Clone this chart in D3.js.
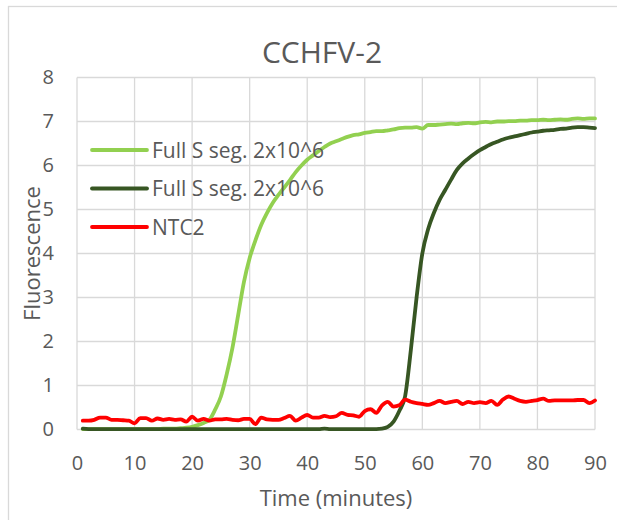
<!DOCTYPE html>
<html>
  <head>
    <script src="https://d3js.org/d3.v7.min.js"></script>
    <meta charset="utf-8">
    <title>CCHFV-2</title>
    <style>
      body {
        margin: 0;
        background-color: #ffffff;
      }

      text {
        font-family: "Open Sans", sans-serif;
        fill: #595959;
      }
    </style>
  </head>
  <body>
    <script>
      // Time points (minutes)
      const minutes = [
        1, 2, 3, 4, 5, 6, 7, 8, 9, 10, 11, 12, 13, 14, 15, 16, 17, 18, 19, 20,
        21, 22, 23, 24, 25, 26, 27, 28, 29, 30, 31, 32, 33, 34, 35, 36, 37, 38, 39, 40,
        41, 42, 43, 44, 45, 46, 47, 48, 49, 50, 51, 52, 53, 54, 55, 56, 57, 58, 59, 60,
        61, 62, 63, 64, 65, 66, 67, 68, 69, 70, 71, 72, 73, 74, 75, 76, 77, 78, 79, 80,
        81, 82, 83, 84, 85, 86, 87, 88, 89, 90
      ];

      // Full S seg. 2x10^6 (light green)
      const fullS1 = [
        0.01, 0.01, 0.01, 0.01, 0.01, 0.01, 0.01, 0.01, 0.01, 0.01,
        0.01, 0.01, 0.01, 0.01, 0.02, 0.02, 0.02, 0.03, 0.04, 0.06,
        0.1, 0.15, 0.22, 0.45, 0.75, 1.25, 1.85, 2.6, 3.35, 3.9,
        4.3, 4.65, 4.92, 5.15, 5.33, 5.5, 5.67, 5.85, 6.0, 6.13,
        6.23, 6.33, 6.42, 6.5, 6.55, 6.6, 6.65, 6.69, 6.71, 6.74,
        6.76, 6.78, 6.78, 6.8, 6.82, 6.85, 6.86, 6.86, 6.87, 6.84,
        6.92, 6.92, 6.93, 6.94, 6.95, 6.94, 6.96, 6.97, 6.96, 6.98,
        6.99, 6.98, 7.0, 7.0, 7.01, 7.01, 7.02, 7.02, 7.03, 7.03,
        7.04, 7.03, 7.04, 7.05, 7.04, 7.06, 7.07, 7.06, 7.07, 7.07
      ];

      // Full S seg. 2x10^6 (dark green)
      const fullS2 = [
        0.02, 0.01, 0.01, 0.01, 0.01, 0.01, 0.01, 0.01, 0.01, 0.01,
        0.01, 0.01, 0.01, 0.01, 0.01, 0.01, 0.01, 0.01, 0.01, 0.01,
        0.01, 0.01, 0.01, 0.01, 0.01, 0.01, 0.01, 0.01, 0.01, 0.01,
        0.01, 0.01, 0.01, 0.01, 0.01, 0.01, 0.01, 0.01, 0.01, 0.01,
        0.01, 0.01, 0.02, 0.01, 0.01, 0.01, 0.01, 0.01, 0.01, 0.01,
        0.01, 0.01, 0.02, 0.06, 0.18, 0.42, 0.75, 1.8, 3.0, 4.0,
        4.55, 4.92, 5.22, 5.45, 5.68, 5.9, 6.05, 6.16, 6.26, 6.35,
        6.42, 6.49, 6.54, 6.59, 6.63, 6.66, 6.69, 6.72, 6.75, 6.77,
        6.79, 6.8, 6.81, 6.83, 6.84, 6.86, 6.87, 6.87, 6.86, 6.85
      ];

      // NTC2 (red)
      const ntc2 = [
        0.2, 0.2, 0.22, 0.27, 0.27, 0.22, 0.22, 0.21, 0.2, 0.14,
        0.26, 0.26, 0.2, 0.25, 0.22, 0.24, 0.22, 0.23, 0.18, 0.29,
        0.2, 0.24, 0.2, 0.23, 0.23, 0.24, 0.22, 0.21, 0.24, 0.24,
        0.12, 0.27, 0.23, 0.22, 0.22, 0.26, 0.31, 0.2, 0.27, 0.33,
        0.27, 0.27, 0.31, 0.28, 0.3, 0.38, 0.33, 0.32, 0.29, 0.42,
        0.46, 0.38, 0.55, 0.63, 0.52, 0.55, 0.68, 0.63, 0.6, 0.58,
        0.56, 0.6, 0.65, 0.6, 0.63, 0.65, 0.58, 0.63, 0.6, 0.62,
        0.6, 0.65, 0.56, 0.68, 0.75, 0.7, 0.65, 0.63, 0.65, 0.67,
        0.7, 0.65, 0.66, 0.66, 0.66, 0.66, 0.67, 0.67, 0.6, 0.66
      ];

      const seriesNames = ["Full S seg. 2x10^6", "Full S seg. 2x10^6", "NTC2"];
      const seriesColors = ["#92d050", "#375623", "#ff0000"];
      const xTicks = [0, 10, 20, 30, 40, 50, 60, 70, 80, 90];
      const yTicks = [0, 1, 2, 3, 4, 5, 6, 7, 8];

      const allSeries = [fullS1, fullS2, ntc2];

      const width = 617;
      const height = 520;
      const margin = {top: 77.5, right: 22, bottom: 90.5, left: 77};

      const svg = d3.select("body")
        .append("svg")
        .attr("width", width)
        .attr("height", height);

      // Chart frame (right and bottom edges fall outside the picture)
      svg.append("rect")
        .attr("x", 8.5)
        .attr("y", 6.5)
        .attr("width", 700)
        .attr("height", 600)
        .attr("fill", "none")
        .attr("stroke", "#d9d9d9")
        .attr("stroke-width", 1.3);

      const x = d3.scaleLinear()
        .domain([0, 90])
        .range([margin.left, width - margin.right]);

      const y = d3.scaleLinear()
        .domain([0, 8])
        .range([height - margin.bottom, margin.top]);

      // Gridlines
      svg.append("g")
        .selectAll("line")
        .data(yTicks)
        .enter()
        .append("line")
        .attr("x1", x(0))
        .attr("x2", x(90))
        .attr("y1", d => y(d))
        .attr("y2", d => y(d))
        .attr("stroke", "#d9d9d9")
        .attr("stroke-width", 1.3);

      svg.append("g")
        .selectAll("line")
        .data(xTicks)
        .enter()
        .append("line")
        .attr("x1", d => x(d))
        .attr("x2", d => x(d))
        .attr("y1", y(0))
        .attr("y2", y(8))
        .attr("stroke", "#d9d9d9")
        .attr("stroke-width", 1.3);

      // Axis labels
      const xAxis = svg.append("g")
        .attr("transform", `translate(0,${y(0)})`)
        .call(d3.axisBottom(x).tickValues(xTicks).tickSize(0).tickPadding(26));
      xAxis.select(".domain").remove();
      xAxis.selectAll("text")
        .attr("font-size", "20px")
        .attr("font-family", "Open Sans, sans-serif")
        .attr("fill", "#595959");

      const yAxis = svg.append("g")
        .attr("transform", `translate(${x(0)},0)`)
        .call(d3.axisLeft(y).tickValues(yTicks).tickSize(0).tickPadding(23));
      yAxis.select(".domain").remove();
      yAxis.selectAll("text")
        .attr("font-size", "20px")
        .attr("font-family", "Open Sans, sans-serif")
        .attr("fill", "#595959");

      // Lines
      const line = d3.line()
        .x((d, i) => x(minutes[i]))
        .y(d => y(d))
        .curve(d3.curveMonotoneX);

      svg.append("g")
        .selectAll("path")
        .data(allSeries)
        .enter()
        .append("path")
        .attr("d", d => line(d))
        .attr("fill", "none")
        .attr("stroke", (d, i) => seriesColors[i])
        .attr("stroke-width", 3.8)
        .attr("stroke-linejoin", "round")
        .attr("stroke-linecap", "round");

      // Title
      svg.append("text")
        .attr("x", 322)
        .attr("y", 62.5)
        .attr("text-anchor", "middle")
        .attr("font-size", "30px")
        .text("CCHFV-2");

      // Axis titles
      svg.append("text")
        .attr("x", (x(0) + x(90)) / 2)
        .attr("y", 506)
        .attr("text-anchor", "middle")
        .attr("font-size", "22px")
        .text("Time (minutes)");

      svg.append("text")
        .attr("transform", `translate(40,${(y(0) + y(8)) / 2}) rotate(-90)`)
        .attr("text-anchor", "middle")
        .attr("font-size", "22px")
        .text("Fluorescence");

      // Legend
      const legend = svg.append("g")
        .selectAll("g")
        .data(seriesNames)
        .enter()
        .append("g")
        .attr("transform", (d, i) => `translate(92,${150 + i * 38.5})`);

      legend.append("line")
        .attr("x1", 0)
        .attr("x2", 55)
        .attr("stroke", (d, i) => seriesColors[i])
        .attr("stroke-width", 3.8)
        .attr("stroke-linecap", "round");

      legend.append("text")
        .attr("x", 60)
        .attr("y", 7.5)
        .attr("font-size", "21px")
        .text(d => d);
    </script>
  </body>
</html>
